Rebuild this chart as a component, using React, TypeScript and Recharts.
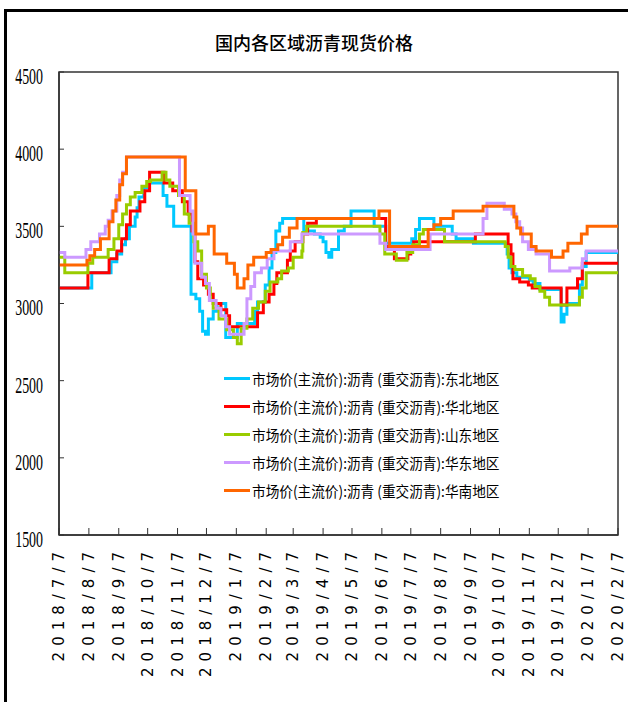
import { LineChart, Line, XAxis, YAxis, Legend, ReferenceArea } from "recharts";

// x positions are days counted from 2018/7/7
const monthTicks = [0, 31, 62, 92, 123, 153, 184, 215, 243, 274, 304, 335, 365, 396, 427, 457, 488, 518, 549, 580];
const monthLabels = [
    "2018/7/7", "2018/8/7", "2018/9/7", "2018/10/7", "2018/11/7", "2018/12/7",
    "2019/1/7", "2019/2/7", "2019/3/7", "2019/4/7", "2019/5/7", "2019/6/7",
    "2019/7/7", "2019/8/7", "2019/9/7", "2019/10/7", "2019/11/7", "2019/12/7",
    "2020/1/7", "2020/2/7",
];
const priceTicks = [1500, 2000, 2500, 3000, 3500, 4000, 4500];

// 东北地区
const dongbeiDays = [0, 34, 54, 60, 65, 69, 73, 79, 81, 83, 88, 93, 108, 112, 119, 137, 142, 146, 149, 152, 155, 160, 164, 173, 185, 203, 206, 214, 218, 221, 225, 229, 232, 254, 265, 271, 274, 277, 280, 283, 290, 296, 303, 327, 339, 366, 370, 374, 389, 408, 412, 430, 465, 467, 470, 475, 488, 492, 499, 521, 524, 527, 540, 543, 547, 580];
const dongbeiPrice = [3100, 3200, 3270, 3320, 3380, 3420, 3500, 3560, 3620, 3690, 3750, 3780, 3700, 3630, 3500, 3060, 3030, 2950, 2820, 2800, 2900, 2950, 3000, 2780, 2870, 2950, 3010, 3120, 3230, 3330, 3470, 3520, 3550, 3470, 3450, 3430, 3400, 3330, 3300, 3350, 3470, 3500, 3600, 3500, 3390, 3420, 3480, 3550, 3500, 3450, 3420, 3390, 3320, 3230, 3200, 3170, 3150, 3130, 3090, 2880, 2930, 3000, 3120, 3240, 3330, 3330];

// 华北地区
const huabeiDays = [0, 30, 52, 60, 65, 70, 74, 84, 89, 94, 109, 118, 128, 134, 138, 141, 144, 150, 155, 160, 168, 174, 177, 206, 212, 218, 223, 226, 237, 240, 245, 253, 258, 267, 339, 348, 362, 365, 368, 432, 466, 469, 471, 478, 487, 491, 521, 527, 538, 543, 580];
const huabeiPrice = [3100, 3200, 3290, 3340, 3420, 3510, 3600, 3660, 3730, 3850, 3780, 3730, 3660, 3580, 3470, 3270, 3160, 3120, 3060, 3000, 2960, 2920, 2850, 2940, 3010, 3060, 3130, 3200, 3280, 3340, 3400, 3450, 3520, 3550, 3370, 3290, 3320, 3370, 3400, 3450, 3380, 3320, 3160, 3140, 3120, 3100, 2990, 3100, 3160, 3260, 3260];

// 山东地区
const shandongDays = [0, 6, 30, 35, 51, 57, 62, 66, 70, 74, 79, 86, 91, 95, 107, 111, 115, 124, 130, 135, 140, 144, 148, 153, 157, 160, 166, 174, 181, 185, 189, 195, 201, 207, 214, 219, 227, 231, 238, 243, 252, 253, 257, 333, 338, 350, 361, 367, 374, 378, 400, 463, 466, 469, 473, 481, 489, 494, 499, 504, 509, 540, 543, 547, 580];
const shandongPrice = [3300, 3200, 3260, 3300, 3350, 3420, 3510, 3580, 3640, 3690, 3720, 3760, 3790, 3800, 3850, 3800, 3760, 3700, 3580, 3520, 3400, 3340, 3190, 3100, 3020, 2970, 2900, 2830, 2780, 2740, 2840, 2900, 2970, 3010, 3080, 3140, 3160, 3210, 3230, 3300, 3340, 3460, 3500, 3450, 3320, 3280, 3330, 3380, 3450, 3480, 3400, 3370, 3300, 3240, 3220, 3180, 3160, 3110, 3080, 3040, 2990, 3040, 3100, 3200, 3200];

// 华东地区
const huadongDays = [0, 6, 28, 33, 42, 48, 51, 55, 60, 63, 66, 70, 125, 136, 139, 141, 148, 152, 156, 163, 168, 173, 177, 192, 195, 199, 203, 210, 216, 223, 240, 252, 333, 339, 385, 440, 444, 462, 470, 474, 478, 481, 487, 495, 509, 530, 543, 547, 580];
const huadongPrice = [3330, 3300, 3350, 3400, 3450, 3500, 3540, 3600, 3700, 3800, 3850, 3950, 3700, 3600, 3450, 3260, 3170, 3130, 3020, 2970, 2920, 2850, 2800, 2870, 3030, 3110, 3200, 3230, 3290, 3340, 3400, 3450, 3390, 3350, 3450, 3550, 3650, 3610, 3580, 3530, 3490, 3400, 3350, 3320, 3210, 3230, 3290, 3340, 3340];

// 华南地区
const huananDays = [0, 29, 32, 37, 43, 52, 56, 59, 63, 66, 70, 131, 142, 155, 161, 174, 182, 185, 192, 196, 202, 215, 220, 227, 232, 239, 247, 332, 343, 383, 389, 396, 409, 440, 472, 475, 479, 490, 495, 511, 523, 528, 542, 548, 580];
const huananPrice = [3250, 3280, 3310, 3350, 3420, 3530, 3600, 3670, 3770, 3840, 3950, 3730, 3450, 3500, 3320, 3260, 3190, 3100, 3160, 3250, 3300, 3330, 3350, 3380, 3430, 3490, 3550, 3600, 3370, 3480, 3510, 3550, 3600, 3630, 3560, 3490, 3450, 3370, 3340, 3300, 3340, 3390, 3450, 3500, 3500];

const PREFIX = "市场价(主流价):沥青 (重交沥青):";

const toPoints = (days: number[], prices: number[]) => days.map((d, i) => ({ d, v: prices[i] }));

const series = [
    { name: PREFIX + "东北地区", color: "#00c8ff", data: toPoints(dongbeiDays, dongbeiPrice) },
    { name: PREFIX + "华北地区", color: "#ff0000", data: toPoints(huabeiDays, huabeiPrice) },
    { name: PREFIX + "山东地区", color: "#99cc00", data: toPoints(shandongDays, shandongPrice) },
    { name: PREFIX + "华东地区", color: "#cc99ff", data: toPoints(huadongDays, huadongPrice) },
    { name: PREFIX + "华南地区", color: "#ff6600", data: toPoints(huananDays, huananPrice) },
];

const AXIS_COLOR = "#333";

// ticks point inward, labels rotated to read bottom-up
function DateTick({ x, y, payload }: any) {
    const label = monthLabels[monthTicks.indexOf(payload.value)];
    return (
        <g>
            <line x1={x} y1={y} x2={x} y2={y - 7} stroke={AXIS_COLOR} />
            <text
                transform={`translate(${x},${y + 11}) rotate(-90)`}
                textAnchor="end"
                dominantBaseline="central"
                fontFamily="DejaVu Sans"
                fontSize={15}
                letterSpacing={6}
                fill="#000"
            >
                {label}
            </text>
        </g>
    );
}

function PriceTick({ x, y, payload }: any) {
    return (
        <g>
            <line x1={x} y1={y} x2={x + 5} y2={y} stroke={AXIS_COLOR} />
            <text
                transform={`translate(${x - 16},${y + 4}) scale(0.58,1)`}
                textAnchor="end"
                dominantBaseline="central"
                fontFamily="Liberation Serif"
                fontSize={24}
                fill="#000"
            >
                {payload.value}
            </text>
        </g>
    );
}

function LegendRows() {
    return (
        <div style={{ fontFamily: "'Noto Sans CJK SC'", fontSize: 15, color: "#000" }}>
            {series.map((s) => (
                <div key={s.name} style={{ display: "flex", alignItems: "center", height: 28 }}>
                    <span style={{ display: "inline-block", width: 29, height: 3, background: s.color, marginRight: 2 }} />
                    <span
                        style={{
                            display: "inline-block",
                            whiteSpace: "nowrap",
                            transform: "scaleX(0.91)",
                            transformOrigin: "left center",
                        }}
                    >
                        {s.name}
                    </span>
                </div>
            ))}
        </div>
    );
}

export default function App() {
    return (
        <div style={{ position: "relative", width: 628, height: 702, background: "#fff", overflow: "hidden" }}>
            <style>{"body{margin:0}"}</style>
            <div
                style={{
                    position: "absolute",
                    left: 4,
                    top: 9,
                    width: 640,
                    height: 720,
                    borderLeft: "3px solid #000",
                    borderTop: "3px solid #000",
                }}
            />
            <div
                style={{
                    position: "absolute",
                    top: 29,
                    left: 0,
                    width: 628,
                    textAlign: "center",
                    fontFamily: "'Noto Sans CJK SC'",
                    fontSize: 18,
                    fontWeight: 500,
                    color: "#000",
                }}
            >
                国内各区域沥青现货价格
            </div>
            <LineChart width={628} height={702} data={[]} margin={{ top: 72, right: 10, bottom: 7, left: 9 }}>
                <XAxis
                    dataKey="d"
                    type="number"
                    domain={[0, 580]}
                    ticks={monthTicks}
                    interval={0}
                    height={160}
                    tickSize={0}
                    tickMargin={0}
                    tickLine={false}
                    tick={<DateTick />}
                    axisLine={{ stroke: AXIS_COLOR, strokeWidth: 1.5 }}
                    allowDataOverflow
                />
                <YAxis
                    type="number"
                    domain={[1500, 4500]}
                    ticks={priceTicks}
                    interval={0}
                    width={50}
                    tickSize={0}
                    tickMargin={0}
                    tickLine={false}
                    tick={<PriceTick />}
                    axisLine={{ stroke: AXIS_COLOR, strokeWidth: 1.5 }}
                    allowDataOverflow
                />
                <ReferenceArea x1={0} x2={580} y1={1500} y2={4500} fill="none" stroke={AXIS_COLOR} strokeWidth={1.5} />
                {series.map((s) => (
                    <Line
                        key={s.name}
                        data={s.data}
                        dataKey="v"
                        name={s.name}
                        type="stepAfter"
                        stroke={s.color}
                        strokeWidth={3}
                        dot={false}
                        isAnimationActive={false}
                    />
                ))}
                <Legend
                    layout="vertical"
                    align="center"
                    verticalAlign="middle"
                    wrapperStyle={{ left: 224, top: 364, width: 300 }}
                    content={() => <LegendRows />}
                />
            </LineChart>
        </div>
    );
}
